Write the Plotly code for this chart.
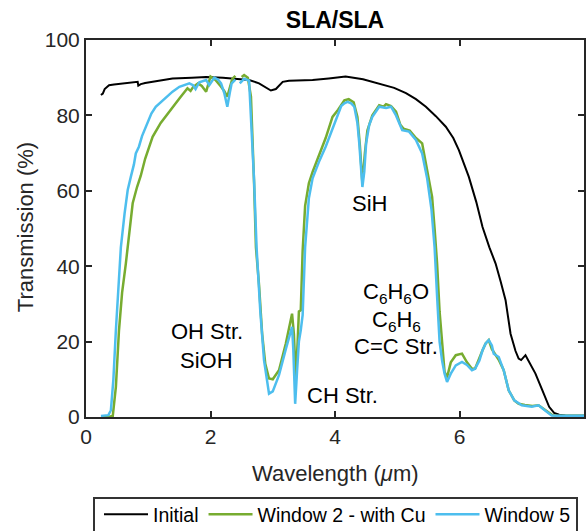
import plotly.graph_objects as go

# ---- data ----
initial_x = [0.24, 0.27, 0.3, 0.37, 0.45, 0.59, 0.7, 0.83, 0.84, 0.88,
             0.95, 1.1, 1.39, 1.7, 1.93, 2.2, 2.45, 2.62, 2.78, 2.9,
             2.97, 3.05, 3.16, 3.26, 3.4, 3.64, 3.9, 4.17, 4.45, 4.71,
             4.95, 5.14, 5.3, 5.46, 5.62, 5.78, 5.9, 5.99, 6.08, 6.15,
             6.27, 6.37, 6.48, 6.58, 6.66, 6.74, 6.82, 6.9, 6.95, 6.99,
             7.06, 7.14, 7.22, 7.33, 7.44, 7.52, 7.6, 7.7, 7.85, 8.0]
initial_y = [85.4, 85.8, 87.0, 88.0, 88.2, 88.5, 88.6, 88.9, 87.9, 88.3,
             88.6, 89.0, 89.8, 90.0, 90.2, 90.0, 89.7, 89.4, 88.5, 87.3,
             86.6, 87.0, 88.9, 89.2, 89.3, 89.4, 89.8, 90.3, 89.6, 88.5,
             87.3, 85.9, 84.3, 82.3, 79.8, 77.0, 74.0, 70.8, 67.0, 63.7,
             57.0, 50.4, 45.0, 40.7, 36.0, 31.0, 22.1, 17.5, 15.5, 15.1,
             16.4, 14.0, 11.5, 7.1, 2.7, 1.1, 0.6, 0.4, 0.3, 0.3]

win2_x = [0.24, 0.35, 0.43, 0.48, 0.53, 0.58, 0.64, 0.7, 0.75, 0.82,
          0.88, 0.95, 1.07, 1.2, 1.39, 1.5, 1.63, 1.68, 1.72, 1.8,
          1.86, 1.93, 2.0, 2.08, 2.17, 2.22, 2.27, 2.35, 2.4, None,
          2.5, 2.54, 2.6, 2.65, 2.7, 2.73, 2.78, 2.83, 2.88, 2.94,
          3.0, 3.1, 3.21, 3.27, 3.31, 3.34, 3.37, 3.4, 3.42, 3.45,
          3.48, 3.52, 3.58, 3.64, 3.75, 3.85, 3.96, 4.05, 4.15, 4.22,
          4.3, 4.36, 4.4, 4.44, 4.48, 4.52, 4.6, 4.71, 4.78, 4.82,
          4.9, 4.98, 5.05, 5.1, 5.2, 5.3, 5.4, 5.48, 5.56, 5.6,
          5.64, 5.68, 5.72, 5.76, 5.8, 5.86, 5.94, 6.04, 6.12, 6.2,
          6.25, 6.32, 6.37, 6.42, 6.47, 6.52, 6.58, 6.63, 6.71, 6.79,
          6.88, 6.95, 7.05, 7.17, 7.27, 7.38, 7.49, 7.6, 7.8, 8.0]
win2_y = [0.0, 0.0, 0.3, 8, 23, 33, 40.7, 50, 56.7, 61,
          64, 68.5, 74.3, 78, 82.3, 84.5, 87.2, 86.5, 87.5, 88.5,
          87.8, 86.3, 90.3, 89.4, 87.6, 86.5, 85, 89.7, 90.5, None,
          90.2, 90.7, 90, 85, 62, 45, 35, 22, 14.1, 10.2,
          10, 12.4, 19.5, 24, 27.4, 22, 10, 20, 28, 28.3,
          44, 56, 62, 65, 70, 74, 79.6, 81.5, 84, 84.3,
          83.5, 79.6, 72, 62, 70, 76, 80, 82.7, 82.3, 83,
          82.5, 81, 77.5, 76.5, 76, 74, 72.6, 66, 58.4, 50,
          40.7, 28, 18.6, 12, 10.5, 14.5, 16.4, 16.8, 14.5, 12.8,
          12.8, 16, 17.7, 19.5, 20.4, 18, 16.5, 15.2, 12.4, 7.1,
          4.4, 3.5, 3.2, 2.9, 3.1, 1.8, 0.5, 0.3, 0.3, 0.3]

win5_x = [0.24, 0.3, 0.36, 0.4, 0.44, 0.48, 0.52, 0.56, 0.62, 0.67,
          0.72, 0.77, 0.8, 0.83, 0.85, 0.9, 0.96, 1.05, 1.12, 1.18,
          1.3, 1.39, 1.5, 1.66, 1.72, 1.76, 1.82, 1.93, 1.98, 2.06,
          2.12, 2.17, 2.22, 2.27, 2.31, 2.34, 2.4, None, 2.47, 2.5,
          2.54, 2.62, 2.66, 2.7, 2.74, 2.8, 2.86, 2.94, 3.0, 3.1,
          3.21, 3.28, 3.31, 3.33, 3.36, 3.39, 3.42, 3.45, 3.48, 3.52,
          3.58, 3.64, 3.75, 3.85, 3.96, 4.01, 4.1, 4.15, 4.2, 4.26,
          4.31, 4.36, 4.39, 4.44, 4.47, 4.5, 4.55, 4.6, 4.71, 4.82,
          4.9, 4.98, 5.08, 5.19, 5.3, 5.4, 5.48, 5.55, 5.6, 5.64,
          5.68, 5.72, 5.76, 5.8, 5.86, 5.94, 6.04, 6.12, 6.2, 6.25,
          6.32, 6.37, 6.42, 6.47, 6.52, 6.55, 6.63, 6.71, 6.79, 6.88,
          7.0, 7.16, 7.27, 7.37, 7.48, 7.6, 7.8, 8.0]
win5_y = [0.3, 0.3, 0.5, 1.8, 10, 23, 35, 45, 54, 60.2,
          63.7, 67, 69.9, 71.2, 71.7, 74.5, 77, 80.5, 82.3, 83.2,
          85, 86.3, 87.6, 88.5, 88, 87, 88.8, 89.4, 88, 90,
          89.5, 88.5, 86, 82.3, 86, 88.5, 89.5, None, 88.5, 89,
          89.7, 89.2, 77, 62.8, 45, 28, 15, 6.2, 6.8, 11.1,
          18, 22, 23.9, 18, 3.5, 12, 20, 23, 27, 45,
          58, 63.3, 68, 71.7, 76.5, 78.8, 82.5, 83.2, 83.6, 83.2,
          82.3, 78, 72.6, 61, 65, 72.6, 77.5, 79.6, 82.3, 82,
          82.3, 80, 76.1, 75.7, 73.5, 69.9, 63.3, 55, 45, 32,
          20, 15, 11.5, 9.3, 11.5, 13.7, 14.6, 13.8, 12.4, 12.8,
          15, 17.7, 19.5, 20.4, 19, 16.8, 15.9, 12.4, 7.1, 4.4,
          3.1, 2.7, 3.1, 1.8, 0.4, 0.3, 0.3, 0.3]

series_names = ["Initial", "Window 2 - with Cu", "Window 5"]
x_ticks = [0, 2, 4, 6, 8]
y_ticks = [0, 20, 40, 60, 80, 100]

# annotation labels: (text, x, y)
labels = [
    ("OH Str.", 1.94, 22.6),
    ("SiOH", 1.94, 15.0),
    ("CH Str.", 4.12, 5.8),
    ("SiH", 4.55, 56.7),
    ("C<sub>6</sub>H<sub>6</sub>O", 4.98, 33.0),
    ("C<sub>6</sub>H<sub>6</sub>", 4.98, 25.5),
    ("C=C Str.", 4.98, 18.6),
]

FONT = "Liberation Sans, Arial, Helvetica, sans-serif"
AX = "#262626"

fig = go.Figure()
fig.add_trace(go.Scatter(x=initial_x, y=initial_y, mode="lines", name=series_names[0],
                         line=dict(color="#000000", width=2)))
fig.add_trace(go.Scatter(x=win2_x, y=win2_y, mode="lines", name=series_names[1],
                         line=dict(color="#77AC30", width=2.5)))
fig.add_trace(go.Scatter(x=win5_x, y=win5_y, mode="lines", name=series_names[2],
                         line=dict(color="#4DBEEE", width=2.5)))

for txt, xx, yy in labels:
    fig.add_annotation(x=xx, y=yy, text=txt, showarrow=False,
                       font=dict(family=FONT, size=22, color="#000000"),
                       xanchor="center", yanchor="middle")

# axis titles
fig.add_annotation(xref="paper", yref="paper", x=0.5, y=-0.1495,
                   text="Wavelength (<i>μ</i>m)", showarrow=False,
                   font=dict(family=FONT, size=22, color=AX),
                   xanchor="center", yanchor="middle")
fig.add_annotation(xref="paper", yref="paper", x=-0.1225, y=0.5036,
                   text="Transmission (%)", showarrow=False, textangle=-90,
                   font=dict(family=FONT, size=22, color=AX),
                   xanchor="center", yanchor="middle")

# legend frame (the reference's box runs off the bottom edge)
fig.add_shape(type="rect", xref="paper", yref="paper",
              x0=(94 - 86) / 498, x1=(577 - 86) / 498,
              y0=(417 - 498) / 377, y1=(417 - 545) / 377,
              line=dict(color="#333333", width=2), fillcolor="rgba(0,0,0,0)",
              layer="above")

fig.update_layout(
    width=587, height=531,
    margin=dict(l=86, r=3, t=40, b=114, autoexpand=False),
    paper_bgcolor="white", plot_bgcolor="white",
    font=dict(family=FONT, color=AX),
    title=dict(text="<b>SLA/SLA</b>", x=0.5, xref="paper", y=1 - 20 / 531,
               yref="container", xanchor="center", yanchor="middle",
               font=dict(family=FONT, size=23, color="#000000")),
    showlegend=True,
    legend=dict(orientation="h", xref="container", yref="container",
                x=99 / 587, y=1 - 495 / 531, xanchor="left", yanchor="top",
                borderwidth=0, bgcolor="rgba(0,0,0,0)",
                itemwidth=44,
                font=dict(family=FONT, size=19.5, color="#000000")),
)
fig.update_xaxes(range=[0, 8], tickvals=x_ticks, ticks="inside", ticklen=6,
                 tickcolor=AX, tickwidth=1.5, showline=True, linecolor=AX, linewidth=2,
                 mirror="ticks", showgrid=False, zeroline=False,
                 tickfont=dict(family=FONT, size=21, color=AX))
fig.update_yaxes(range=[0, 100], tickvals=y_ticks, ticks="inside", ticklen=6,
                 tickcolor=AX, tickwidth=1.5, showline=True, linecolor=AX, linewidth=2,
                 mirror="ticks", showgrid=False, zeroline=False,
                 tickfont=dict(family=FONT, size=21, color=AX))

fig.write_html("out.html")
